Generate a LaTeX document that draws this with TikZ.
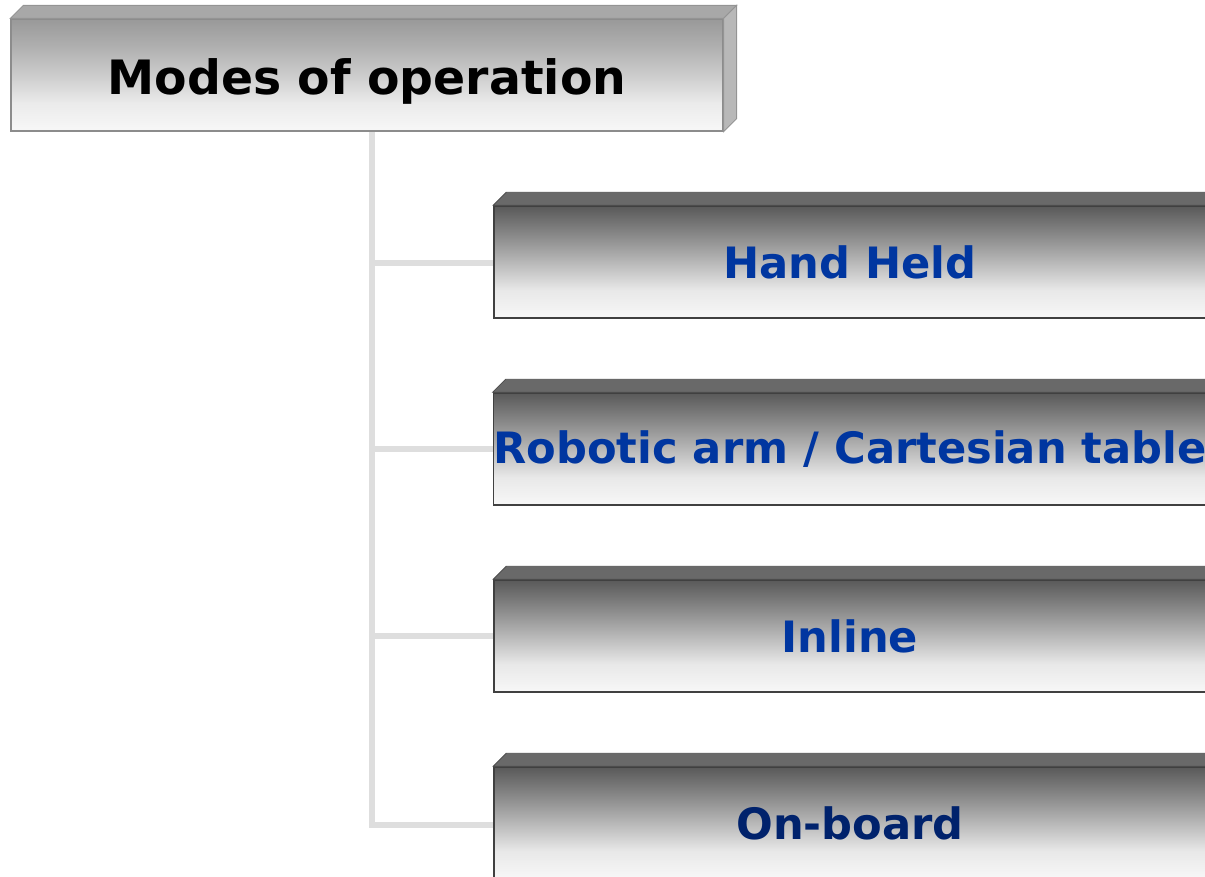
\documentclass[tikz,border=0pt]{standalone}
\usepackage{fontspec}
\setmainfont{DejaVu Sans}
\usetikzlibrary{calc}
\definecolor{modeblue}{HTML}{0036A0}
\definecolor{modenavy}{HTML}{00226C}
\definecolor{linkgray}{HTML}{DEDEDE}
% vertical ramps for the box faces (the box spans 25bp to 75bp)
\pgfdeclareverticalshading{darkface}{100bp}{%
  color(0bp)=(white!97!black); color(25bp)=(white!97!black);
  color(37.5bp)=(white!91!black); color(50bp)=(white!72!black);
  color(62.5bp)=(white!53!black); color(75bp)=(white!35!black);
  color(100bp)=(white!35!black)}
\pgfdeclareverticalshading{lightface}{100bp}{%
  color(0bp)=(white!97!black); color(25bp)=(white!97!black);
  color(37.5bp)=(white!92!black); color(50bp)=(white!80!black);
  color(62.5bp)=(white!69!black); color(75bp)=(white!60!black);
  color(100bp)=(white!60!black)}
\tikzset{
  px/.style={x=0.75pt,y=-0.75pt},
  titlebox/.style={draw=white!55!black,line width=0.9pt,shading=lightface,
    minimum width=534pt,minimum height=84pt,inner sep=0pt,
    font=\bfseries\fontsize{35.5}{40}\selectfont,text=black},
  modebox/.style={draw=white!25!black,line width=1.1pt,shading=darkface,
    minimum width=534pt,minimum height=84pt,inner sep=0pt,
    font=\bfseries\fontsize{32.4}{38}\selectfont},
  topbevel/.style={fill=white!41!black,draw=white!30!black,line width=0.6pt},
  titlebevel/.style={fill=white!66!black,draw=white!58!black,line width=0.6pt},
  sidebevel/.style={fill=white!72!black,draw=white!58!black,line width=0.6pt},
  link/.style={draw=linkgray,line width=4.5pt,line join=miter,line cap=rect},
}
\begin{document}
\begin{tikzpicture}[px]
\useasboundingbox (0,0) rectangle (1205,877);

% connectors sit behind the boxes
\coordinate (trunk) at (372,131);
\coordinate (h1) at (494,263);
\coordinate (h2) at (494,449);
\coordinate (h3) at (494,636);
\coordinate (h4) at (494,825);
\draw[link] (trunk) |- (h1);
\draw[link] (trunk) |- (h2);
\draw[link] (trunk) |- (h3);
\draw[link] (trunk) |- (h4);

% title box with its top and right bevels
\node[titlebox] (title) at (367,75) {\raisebox{-4.5pt}[\height][\depth]{Modes of operation}};
\draw[titlebevel] (title.north west) -- ++(13,-13) -- ($(title.north east)+(13,-13)$) -- (title.north east) -- cycle;
\draw[sidebevel] (title.north east) -- ++(13,-13) -- ($(title.south east)+(13,-13)$) -- (title.south east) -- cycle;

% the four modes
\foreach \name/\yy/\txt/\col in {m1/262/{Hand Held}/modeblue,
    m2/449/{Robotic arm / Cartesian table}/modeblue,
    m3/636/{Inline}/modeblue,
    m4/823/{On-board}/modenavy}{
  \node[modebox,text=\col] (\name) at (850,\yy) {\txt};
  \draw[topbevel] (\name.north west) -- ++(13,-13) -- ($(\name.north east)+(13,-13)$) -- (\name.north east) -- cycle;
}
\end{tikzpicture}
\end{document}
